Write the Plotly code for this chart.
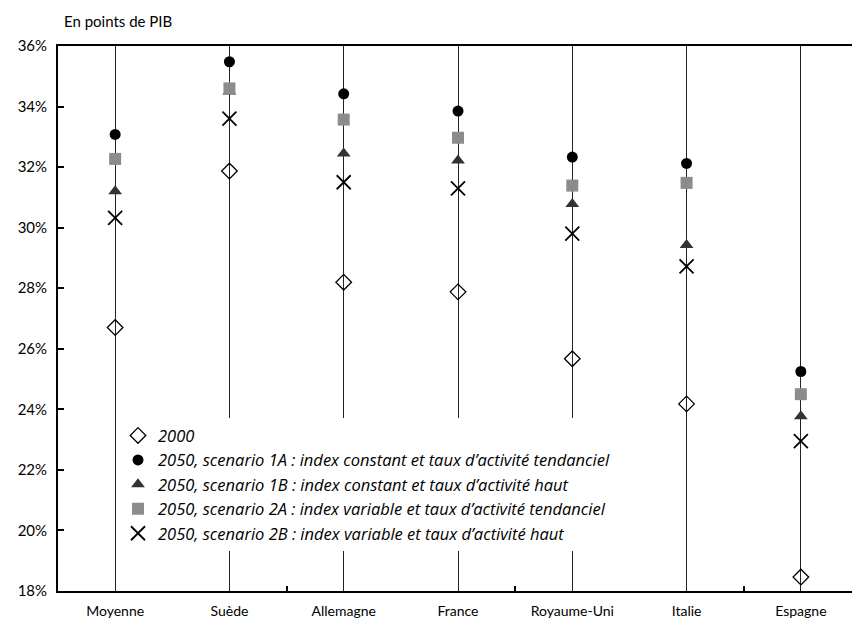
import plotly.graph_objects as go

categories = ["Moyenne", "Suède", "Allemagne", "France", "Royaume-Uni", "Italie", "Espagne"]

v2000 = [26.7, 31.87, 28.2, 27.88, 25.67, 24.18, 18.46]
v1A = [33.08, 35.48, 34.42, 33.85, 32.33, 32.12, 25.25]
v1B = [31.2, 34.5, 32.45, 32.22, 30.78, 29.43, 23.77]
v2A = [32.27, 34.6, 33.57, 32.97, 31.39, 31.48, 24.5]
v2B = [30.32, 33.6, 31.5, 31.3, 29.8, 28.72, 22.95]

names = [
    "2000",
    "2050, scenario 1A : index constant et taux d’activité tendanciel",
    "2050, scenario 1B : index constant et taux d’activité haut",
    "2050, scenario 2A : index variable et taux d’activité tendanciel",
    "2050, scenario 2B : index variable et taux d’activité haut",
]

y_ticks = [18, 20, 22, 24, 26, 28, 30, 32, 34, 36]
x_idx = list(range(len(categories)))

FONT = "Lato, 'Open Sans', sans-serif"
LFONT = "'Open Sans', Lato, sans-serif"

fig = go.Figure()
series = [
    (v2000, names[0], dict(symbol="diamond-open", size=12, color="black", line=dict(width=1.3, color="black"))),
    (v1A, names[1], dict(symbol="circle", size=11, color="black")),
    (v1B, names[2], dict(symbol="triangle-up", size=12, color="#333333")),
    (v2A, names[3], dict(symbol="square", size=12, color="#8c8c8c")),
    (v2B, names[4], dict(symbol="x-thin-open", size=14, color="black", line=dict(width=1.8, color="black"))),
]
for vals, nm, mk in series:
    fig.add_trace(go.Scatter(x=x_idx, y=vals, mode="markers", name=nm, marker=mk, cliponaxis=False))

fig.update_layout(
    width=852, height=617,
    margin=dict(l=50, r=2, t=38, b=34, autoexpand=False),
    paper_bgcolor="white", plot_bgcolor="white",
    font=dict(family=FONT, size=14, color="black"),
    showlegend=True,
    legend=dict(
        x=0.075, y=0.317, xanchor="left", yanchor="top",
        bgcolor="white", borderwidth=0,
        font=dict(family=LFONT, size=16.5, color="black", style="italic"),
        tracegroupgap=0, itemwidth=30,
    ),
    annotations=[dict(
        text="En points de PIB", xref="paper", yref="paper",
        x=0.005, y=1.045, xanchor="left", yanchor="middle",
        showarrow=False, font=dict(family=FONT, size=15, color="black"),
    )],
)
fig.update_xaxes(
    range=[-0.5, 6.5], tickmode="array", tickvals=x_idx, ticktext=categories,
    showgrid=True, gridcolor="#222222", gridwidth=1, zeroline=False,
    showline=True, linecolor="black", linewidth=1.8, mirror=True,
    ticks="", ticklabelstandoff=6, automargin=False,
    minor=dict(tickmode="array", tickvals=[1.5, 3.5, 5.5], ticks="inside", ticklen=5, tickcolor="black", tickwidth=1.5, showgrid=False),
    tickfont=dict(family=FONT, size=14, color="black"),
)
fig.update_yaxes(
    range=[18, 36], tickmode="array", tickvals=y_ticks, ticktext=[f"{t}%" for t in y_ticks],
    showgrid=False, zeroline=False, automargin=False,
    showline=True, linecolor="black", linewidth=1.8, mirror=True,
    ticks="inside", ticklen=6, tickwidth=1.5, tickcolor="black", ticklabelstandoff=6,
    tickfont=dict(family=FONT, size=15, color="black"),
)

fig.write_html("out.html")
